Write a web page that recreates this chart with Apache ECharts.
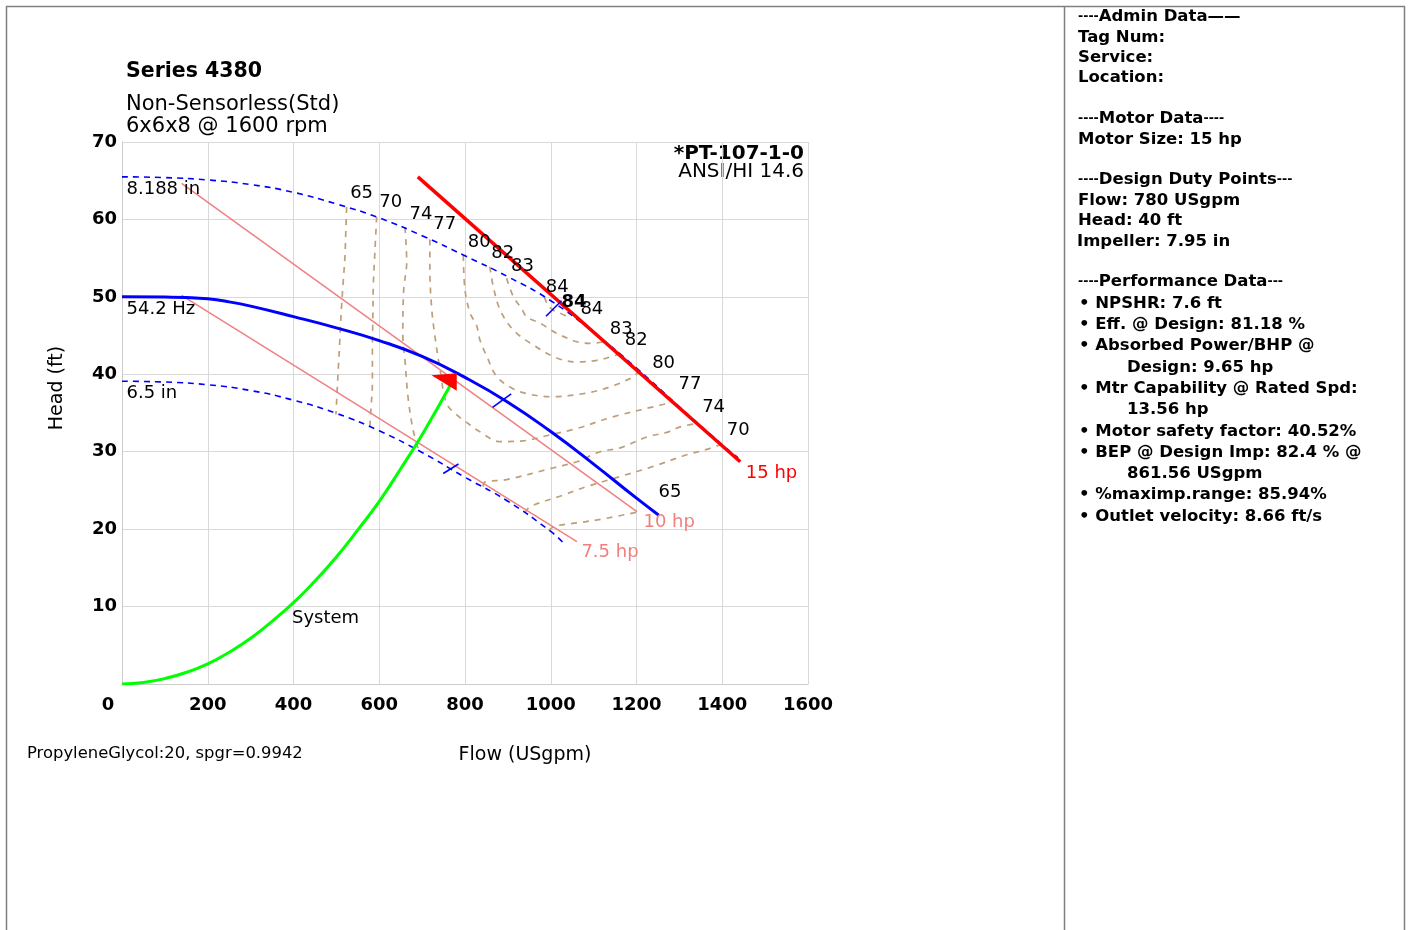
<!DOCTYPE html>
<html><head><meta charset="utf-8">
<script src="https://cdn.jsdelivr.net/npm/echarts@6/dist/echarts.min.js"></script>
<style>html,body{margin:0;padding:0;background:#fff}#c{width:1411px;height:930px}</style>
</head><body><div id="c"></div>
<script>
// ---------- data ----------
const flowTicks = [0,200,400,600,800,1000,1200,1400,1600];
const headTicks = [0,10,20,30,40,50,60,70];

const imp8188 = [[0,65.5],[100,65.4],[200,65.1],[300,64.5],[400,63.5],[500,62.0],[600,60.2],[700,57.9],[800,55.3],[900,52.6],[1000,49.5],[1100,45.4],[1200,40.8],[1300,35.8],[1400,30.9],[1437,29.2]];
const hz542 = [[0,50.0],[100,49.97],[150,49.92],[200,49.75],[250,49.35],[300,48.8],[400,47.45],[500,46.0],[600,44.35],[700,42.3],[800,39.6],[900,36.4],[1000,32.6],[1100,28.4],[1200,24.0],[1252,21.8]];
const imp65 = [[0,39.1],[100,39.0],[200,38.65],[300,37.9],[400,36.65],[500,34.95],[600,32.7],[700,29.9],[800,26.7],[900,23.6],[1000,19.7],[1028,18.3]];
const hp15 = [[690,65.5],[1442,28.7]];
const hp10 = [[139,64.65],[1201,22.25]];
const hp75 = [[139,50.2],[1061,18.4]];
const systemCurve = [[0,0],[50,0.2],[100,0.7],[150,1.5],[200,2.6],[250,4.1],[300,5.9],[350,8.1],[400,10.5],[450,13.3],[500,16.4],[550,19.9],[600,23.6],[650,27.8],[700,32.2],[768,38.8]];
const designPoint = [780,40];
const bepPoints = [[1007,48.5],[886,36.6],[767,27.8]];

const eff65L = [[524,61.6],[522,58.5],[520,55.2],[516,52.0],[512,48.7],[508,44.4],[504,40.2],[499,34.8]];
const eff65R = [[995,19.8],[1004,20.2],[1020,20.5],[1061,20.8],[1130,21.4],[1201,22.2]];
const eff70L = [[594,60.35],[590,56.0],[586,51.3],[585,47.0],[584,43.0],[584,39.0],[580,35.0],[578,33.1]];
const eff70R = [[940,22.1],[952,22.9],[1029,24.4],[1084,25.5],[1162,26.8],[1239,28.1],[1317,29.6],[1364,30.3],[1400,31.0]];
const eff74L = [[660,59.0],[664,54.5],[657,50.9],[655,44.85],[660,41.85],[667,37.1],[679,32.8],[693,30.0]];
const eff74R = [[842,25.5],[847,26.1],[897,26.4],[1005,27.9],[1061,28.7],[1115,30.0],[1162,30.5],[1224,31.9],[1271,32.5],[1302,33.2],[1345,33.7]];
const eff77 = [[718,57.4],[718,53.9],[722,48.7],[730,44.85],[742,40.55],[757,36.25],[781,34.75],[812,33.45],[828,32.8],[882,31.3],[935,31.4],[1000,32.2],[1061,33.0],[1145,34.5],[1239,35.8],[1285,36.4]];
const eff80 = [[796,55.4],[800,50.9],[812,47.9],[827,46.3],[835,44.4],[851,42.3],[874,39.7],[910,38.2],[944,37.5],[998,37.1],[1076,37.5],[1140,38.4],[1193,39.7],[1205,40.4]];
const eff82 = [[858,53.9],[866,51.3],[882,48.3],[913,45.7],[959,43.8],[1014,42.1],[1061,41.6],[1107,41.8],[1154,42.5],[1160,42.65]];
const eff83 = [[897,52.4],[913,50.0],[932,48.5],[944,47.4],[975,46.6],[1014,45.3],[1061,44.2],[1092,44.0],[1125,44.2]];
const eff84 = [[985,50.0],[993,49.0],[1005,48.3],[1022,47.9],[1040,47.4]];

const panelTexts = ['{d|----}Admin Data——','Tag Num:','Service:','Location:','','{d|----}Motor Data{d|----}','Motor Size: 15 hp','','{d|----}Design Duty Points{d|---}','Flow: 780 USgpm','Head: 40 ft','Impeller: 7.95 in','','{d|----}Performance Data{d|---}','• NPSHR: 7.6 ft','• Eff. @ Design: 81.18 %','• Absorbed Power/BHP @','Design: 9.65 hp','• Mtr Capability @ Rated Spd:','13.56 hp','• Motor safety factor: 40.52%','• BEP @ Design Imp: 82.4 % @','861.56 USgpm','• %maximp.range: 85.94%','• Outlet velocity: 8.66 ft/s'];

// ---------- build ----------
const F = 'DejaVu Sans';
const effBranches = [
  {level:65, parts:[eff65L, eff65R]},
  {level:70, parts:[eff70L, eff70R]},
  {level:74, parts:[eff74L, eff74R]},
  {level:77, parts:[eff77]},
  {level:80, parts:[eff80]},
  {level:82, parts:[eff82]},
  {level:83, parts:[eff83]},
  {level:84, parts:[eff84]}
];
const leftOff = {65:[3,-14],70:[2,-14],74:[4,-13],77:[3,-15],80:[4,-13],82:[1,-13],83:[4,-12],84:[1,-10]};
const rightOff = {65:[21,-20],70:[4,-14],74:[3,-16],77:[5,-18],80:[13,-8],82:[5,-13],83:[5,-12],84:[-7,-15]};

const series = [];
effBranches.forEach(b => b.parts.forEach(p => series.push({
  type:'line', data:p, smooth:0.35, symbol:'none', silent:true, z:2,
  lineStyle:{color:'#bf9f7a', width:1.7, type:[6,6]}
})));

const labelData = [];
function lab(pt, text, off, color, size, weight) {
  labelData.push({value:pt, label:{show:true, formatter:text, position:'right', distance:0, offset:off,
    color:color||'#000', opacity:1, fontSize:size||18, fontFamily:F, fontWeight:weight||'normal'}});
}
effBranches.forEach(b => {
  const first = b.parts[0][0];
  const lastPart = b.parts[b.parts.length-1];
  const last = lastPart[lastPart.length-1];
  lab(first, String(b.level), leftOff[b.level]);
  lab(last, String(b.level), rightOff[b.level], '#000', 18, b.level===84 ? 'bold':'normal');
});
lab(eff84[eff84.length-1], '84', [12,-8]);
lab(imp8188[0], '8.188 in', [4,12]);
lab(hz542[0], '54.2 Hz', [4,12]);
lab(imp65[0], '6.5 in', [4,12]);
lab(hp15[1], '15 hp', [5,12], '#ff0000');
lab(hp10[1], '10 hp', [6,11], '#f08080');
lab(hp75[1], '7.5 hp', [4,11], '#f08080');
lab(systemCurve[8], 'System', [-2,16]);

const blueDash = {color:'#0000ff', width:1.6, type:[6,5]};
series.push(
  {type:'line', data:imp65, smooth:0.5, symbol:'none', z:3, lineStyle:blueDash},
  {type:'line', data:imp8188, smooth:0.5, symbol:'none', z:3, lineStyle:blueDash},
  {type:'line', data:hp75, symbol:'none', z:4, lineStyle:{color:'#f08080', width:1.5}},
  {type:'line', data:hp10, symbol:'none', z:4, lineStyle:{color:'#f08080', width:1.5}},
  {type:'line', data:hz542, smooth:0.5, symbol:'none', z:5, lineStyle:{color:'#0000ff', width:3}},
  {type:'line', data:hp15, symbol:'none', z:6, lineStyle:{color:'#ff0000', width:3.5}},
  {type:'line', data:systemCurve, smooth:0.5, symbol:'none', z:6, lineStyle:{color:'#00ff00', width:3}},
  {type:'scatter', z:7, symbol:'rect', itemStyle:{color:'#0000ff', opacity:1},
    data:[
      {value:bepPoints[0], symbolSize:[1.6,22], symbolRotate:-45},
      {value:bepPoints[1], symbolSize:[1.6,23], symbolRotate:-54},
      {value:bepPoints[2], symbolSize:[1.6,18], symbolRotate:-58}
    ]},
  {type:'custom', z:8, data:[designPoint], renderItem:(params, api) => {
    const p = api.coord([api.value(0), api.value(1)]);
    return {type:'polygon', shape:{points:[[p[0]+0.3,p[1]-1],[p[0]-25,p[1]+1],[p[0]+0.3,p[1]+16.5]]}, style:{fill:'#ff0000'}};
  }},
  {type:'scatter', z:9, symbolSize:1, itemStyle:{color:'rgba(0,0,0,0)', opacity:1}, data:labelData, silent:true}
);

// panel layout
const panelG = [];
let y = 17;
panelTexts.forEach((t, i) => {
  if (t) {
    const indent = /^(Design: 9|13\.56|861\.56)/.test(t);
    panelG.push({type:'text', x: indent ? 1127 : (t.startsWith('•') ? 1079 : (t.startsWith('Impeller') ? 1077 : 1078)), y:y,
      style:{text:t, font:'bold 16.5px "DejaVu Sans"', fill:'#000', verticalAlign:'middle', align:'left',
        rich:{d:{font:'bold 12.5px "DejaVu Sans"', fill:'#000'}}}});
  }
  y += (i >= 13 ? 21.3 : 20.4);
});

const option = {
  animation:false,
  grid:{left:122, top:142, width:686, height:542},
  xAxis:{type:'value', min:flowTicks[0], max:flowTicks[flowTicks.length-1], interval:flowTicks[1]-flowTicks[0],
    axisLine:{show:true, lineStyle:{color:'#cccccc', width:1}}, axisTick:{show:false},
    splitLine:{show:true, lineStyle:{color:'#d9d9d9', width:1}},
    axisLabel:{margin:12, color:'#000', fontWeight:'bold', fontSize:18, fontFamily:F,
      formatter:v => v===0 ? '{z|0}' : String(v),
      rich:{z:{padding:[0,28,0,0], fontWeight:'bold', fontSize:18, fontFamily:F, color:'#000'}}},
    name:'Flow (USgpm)', nameLocation:'middle', nameGap:62,
    nameTextStyle:{color:'#000', fontSize:19, fontFamily:F, padding:[0,0,0,120]}},
  yAxis:{type:'value', min:headTicks[0], max:headTicks[headTicks.length-1], interval:headTicks[1]-headTicks[0],
    axisLine:{show:true, lineStyle:{color:'#cccccc', width:1}}, axisTick:{show:false},
    splitLine:{show:true, lineStyle:{color:'#d9d9d9', width:1}},
    axisLabel:{margin:5, color:'#000', fontWeight:'bold', fontSize:18, fontFamily:F, showMinLabel:false},
    name:'Head (ft)', nameLocation:'middle', nameGap:55,
    nameTextStyle:{color:'#000', fontSize:19, fontFamily:F, padding:[0,0,0,50]}},
  graphic:[
    {type:'line', shape:{x1:6,y1:6.5,x2:1405,y2:6.5}, style:{stroke:'#808080', lineWidth:1.5}},
    {type:'line', shape:{x1:6.5,y1:6,x2:6.5,y2:930}, style:{stroke:'#808080', lineWidth:1.5}},
    {type:'line', shape:{x1:1404.5,y1:6,x2:1404.5,y2:930}, style:{stroke:'#808080', lineWidth:1.5}},
    {type:'line', shape:{x1:1064.5,y1:6,x2:1064.5,y2:930}, style:{stroke:'#808080', lineWidth:1.5}},
    {type:'text', x:126, y:72, style:{text:'Series 4380', font:'bold 20.5px "DejaVu Sans"', fill:'#000', verticalAlign:'middle'}},
    {type:'text', x:126, y:105, style:{text:'Non-Sensorless(Std)', font:'21px "DejaVu Sans"', fill:'#000', verticalAlign:'middle'}},
    {type:'text', x:126, y:127, style:{text:'6x6x8 @ 1600 rpm', font:'21px "DejaVu Sans"', fill:'#000', verticalAlign:'middle'}},
    {type:'text', x:804, y:154, style:{text:'*PT-107-1-0', font:'bold 20px "DejaVu Sans"', fill:'#000', verticalAlign:'middle', align:'right'}},
    {type:'text', x:804, y:172, style:{text:'ANSI/HI 14.6', font:'20px "DejaVu Sans"', fill:'#000', verticalAlign:'middle', align:'right'}},
    {type:'text', x:27, y:754, style:{text:'PropyleneGlycol:20, spgr=0.9942', font:'16.4px "DejaVu Sans"', fill:'#000', verticalAlign:'middle'}}
  ].concat(panelG),
  series:series
};
const chart = echarts.init(document.getElementById('c'), null, {renderer:'canvas'});
chart.setOption(option);
</script></body></html>
